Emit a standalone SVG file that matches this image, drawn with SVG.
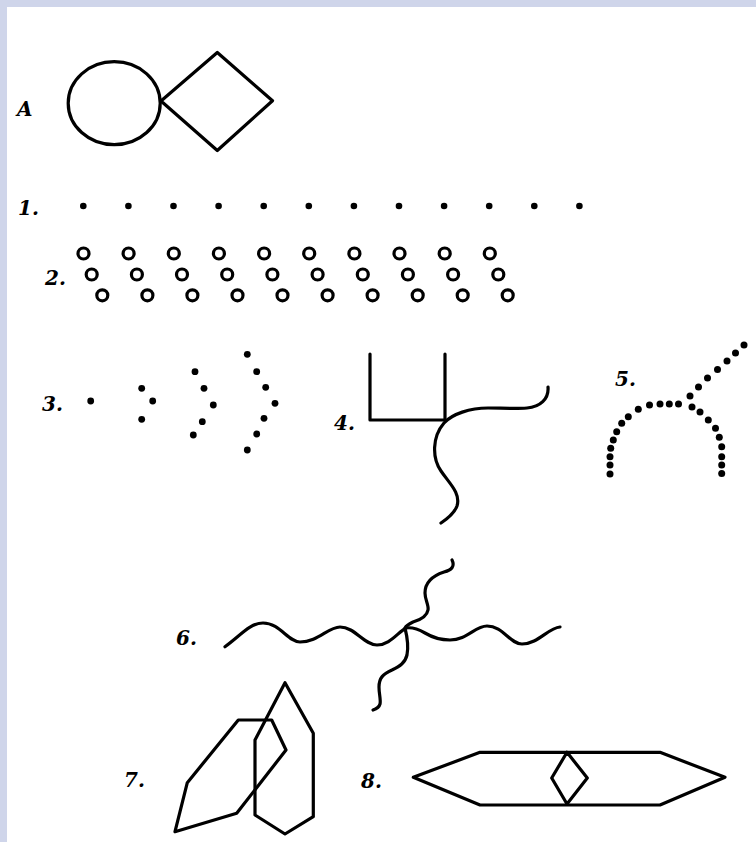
<svg xmlns="http://www.w3.org/2000/svg" width="756" height="842" viewBox="0 0 756 842">
<style>
.ln{fill:none;stroke:#000;stroke-width:3.2;stroke-linejoin:round;stroke-linecap:round}
.dt{fill:#000}
.oc{fill:none;stroke:#000;stroke-width:3.2}
.lb{font-family:"DejaVu Serif","Liberation Serif",serif;font-weight:bold;font-style:italic;font-size:20px;fill:#000}
</style>
<rect width="756" height="842" fill="#fff"/>
<rect x="0" y="0" width="756" height="7" fill="#cfd5ea"/>
<rect x="0" y="0" width="7" height="842" fill="#cfd5ea"/>

<g id="itemA">
<text class="lb" x="17" y="116">A</text>
<ellipse class="ln" cx="114.2" cy="103.2" rx="46" ry="41.5"/>
<polygon class="ln" points="161,101 217.3,52.5 272.5,100.7 217.3,150.5"/>
</g>

<g id="item1">
<text class="lb" x="18" y="215">1.</text>
<g class="dt">
<circle cx="83.3" cy="206" r="3.3"/><circle cx="128.4" cy="206" r="3.3"/><circle cx="173.5" cy="206" r="3.3"/><circle cx="218.6" cy="206" r="3.3"/><circle cx="263.7" cy="206" r="3.3"/><circle cx="308.8" cy="206" r="3.3"/><circle cx="353.9" cy="206" r="3.3"/><circle cx="399" cy="206" r="3.3"/><circle cx="444.1" cy="206" r="3.3"/><circle cx="489.2" cy="206" r="3.3"/><circle cx="534.3" cy="206" r="3.3"/><circle cx="579.4" cy="206" r="3.3"/>
</g>
</g>

<g id="item2">
<text class="lb" x="45" y="285">2.</text>
<g class="oc">
<circle cx="83.5" cy="253.5" r="5.5"/><circle cx="128.6" cy="253.5" r="5.5"/><circle cx="173.8" cy="253.5" r="5.5"/><circle cx="218.9" cy="253.5" r="5.5"/><circle cx="264.1" cy="253.5" r="5.5"/><circle cx="309.2" cy="253.5" r="5.5"/><circle cx="354.4" cy="253.5" r="5.5"/><circle cx="399.5" cy="253.5" r="5.5"/><circle cx="444.7" cy="253.5" r="5.5"/><circle cx="489.8" cy="253.5" r="5.5"/>
<circle cx="91.7" cy="274.5" r="5.5"/><circle cx="136.9" cy="274.5" r="5.5"/><circle cx="182" cy="274.5" r="5.5"/><circle cx="227.2" cy="274.5" r="5.5"/><circle cx="272.4" cy="274.5" r="5.5"/><circle cx="317.6" cy="274.5" r="5.5"/><circle cx="362.8" cy="274.5" r="5.5"/><circle cx="407.9" cy="274.5" r="5.5"/><circle cx="453.1" cy="274.5" r="5.5"/><circle cx="498.3" cy="274.5" r="5.5"/>
<circle cx="102.3" cy="295.3" r="5.5"/><circle cx="147.4" cy="295.3" r="5.5"/><circle cx="192.4" cy="295.3" r="5.5"/><circle cx="237.5" cy="295.3" r="5.5"/><circle cx="282.5" cy="295.3" r="5.5"/><circle cx="327.6" cy="295.3" r="5.5"/><circle cx="372.6" cy="295.3" r="5.5"/><circle cx="417.7" cy="295.3" r="5.5"/><circle cx="462.7" cy="295.3" r="5.5"/><circle cx="507.7" cy="295.3" r="5.5"/>
</g>
</g>

<g id="item3">
<text class="lb" x="42" y="411">3.</text>
<g class="dt">
<circle cx="90.7" cy="401" r="3.4"/>
<circle cx="141.7" cy="388.3" r="3.4"/><circle cx="152.7" cy="401" r="3.4"/><circle cx="141.7" cy="419.3" r="3.4"/>
<circle cx="195" cy="371.7" r="3.4"/><circle cx="204" cy="388.3" r="3.4"/><circle cx="213.3" cy="405" r="3.4"/><circle cx="202.3" cy="421.7" r="3.4"/><circle cx="193.3" cy="435" r="3.4"/>
<circle cx="247.3" cy="354.3" r="3.4"/><circle cx="256.7" cy="371.7" r="3.4"/><circle cx="265.7" cy="387.3" r="3.4"/><circle cx="275" cy="403.3" r="3.4"/><circle cx="264" cy="418.3" r="3.4"/><circle cx="256.7" cy="434" r="3.4"/><circle cx="247.3" cy="450" r="3.4"/>
</g>
</g>

<g id="item4">
<text class="lb" x="334" y="430">4.</text>
<polyline class="ln" points="370,354 370,420 445,420 445,354"/>
<path class="ln" d="M548,387 C549,399 540,407 527,408 C515,409 500,408 488,408 C470,408 452,414 444,423 C432,437 432,458 441,471 C449,483 461,493 457,506 C454,514 447,519 441,523"/>
</g>

<g id="item5">
<text class="lb" x="615" y="386">5.</text>
<g class="dt">
<circle cx="744" cy="345" r="3.5"/><circle cx="735.5" cy="353" r="3.5"/><circle cx="727" cy="361" r="3.5"/><circle cx="717.5" cy="369.5" r="3.5"/><circle cx="707.5" cy="378" r="3.5"/><circle cx="698.5" cy="387" r="3.5"/><circle cx="690" cy="396" r="3.5"/>
<circle cx="692" cy="407" r="3.5"/><circle cx="700" cy="412" r="3.5"/><circle cx="708.3" cy="420" r="3.5"/><circle cx="715.5" cy="428.3" r="3.5"/><circle cx="719.3" cy="437.3" r="3.5"/><circle cx="721.7" cy="446.7" r="3.5"/><circle cx="721.7" cy="456.7" r="3.5"/><circle cx="721.7" cy="465" r="3.5"/><circle cx="721.7" cy="473.5" r="3.5"/>
<circle cx="610" cy="474" r="3.5"/><circle cx="610" cy="465" r="3.5"/><circle cx="610" cy="456.7" r="3.5"/><circle cx="610.7" cy="448.3" r="3.5"/><circle cx="613.3" cy="440" r="3.5"/><circle cx="616.7" cy="431.7" r="3.5"/><circle cx="621.7" cy="423.3" r="3.5"/><circle cx="628.3" cy="416.7" r="3.5"/><circle cx="638.3" cy="409.3" r="3.5"/><circle cx="649.5" cy="405" r="3.5"/><circle cx="660" cy="404" r="3.5"/><circle cx="669.3" cy="404" r="3.5"/><circle cx="678.5" cy="404" r="3.5"/>
</g>
</g>

<g id="item6">
<text class="lb" x="176" y="645">6.</text>
<path class="ln" d="M225,646.7 C240,636 250,623 263,623 C280,623 288,642 300,642 C318,642 328,627 340,627 C355,627 364,645 377,645 C390,645 398,632 406,628 C412,627 418,629 425,633 C435,639 442,640 450,640 C467,640 475,626 487,626 C503,626 510,644 522,644 C538,644 548,628 560,627"/>
<path class="ln" d="M452,560 C455,566 452,570 444,572 C432,576 425,583 425,593 C425,600 429,605 428,610 C427,616 420,620 413,622 C409,624 406,626 405,628 C407,636 409,645 407,655 C405,663 400,666 392,670 C383,674 379,678 379,687 C379,694 381,700 380,704 C379,708 376,709 373,710"/>
</g>

<g id="item7">
<text class="lb" x="124" y="787">7.</text>
<polygon class="ln" points="175,831.7 187.3,782.7 238.3,720 271.7,720 286,750 236.7,813.3"/>
<polygon class="ln" points="285,682.7 313.3,733.3 313.3,816.7 285,834 255,815 255,740"/>
</g>

<g id="item8">
<text class="lb" x="361" y="788">8.</text>
<polygon class="ln" points="413.3,777.3 480,752.3 660,752.3 725,777.3 660,805 480,805"/>
<polygon class="ln" points="567,752.3 587.3,778 567,804 551.7,778"/>
</g>
</svg>
